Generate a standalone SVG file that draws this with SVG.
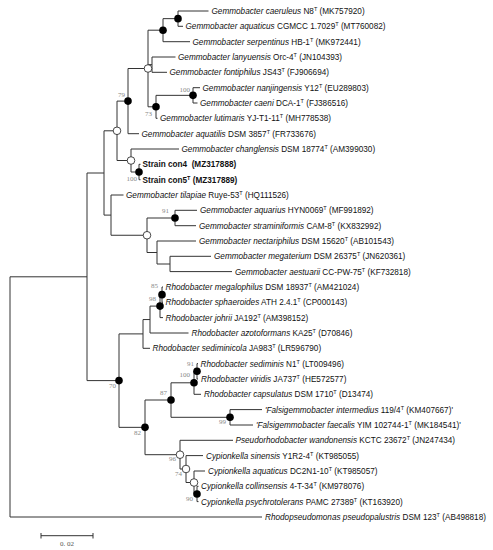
<svg xmlns="http://www.w3.org/2000/svg" width="493" height="550" viewBox="0 0 493 550">
<style>
.br{stroke:#333;stroke-width:1;fill:none}
.lf{font-family:"Liberation Sans",Arial,sans-serif;font-size:8.2px;fill:#111}
.it{font-style:italic}
.b{font-weight:bold}
.sup{font-size:5.5px}
.bs{font-family:"Liberation Serif","Times New Roman",serif;font-size:7px;fill:#888;text-anchor:end}
.fc{fill:#000}
.oc{fill:#fff;stroke:#333;stroke-width:0.9}
.sc{font-family:"Liberation Serif","Times New Roman",serif;font-size:7px;fill:#555;text-anchor:middle}
</style>
<rect width="493" height="550" fill="#fff"/>
<g id="connectors" class="br">
<path d="M178 11V26.3M178 11H208.5M178 26.3H183"/>
<path d="M163 18.65V41.7M163 18.65H178M163 41.7H190"/>
<path d="M152 57V72.3M152 57H175.5M152 72.3H167"/>
<path d="M193 87.7V103M193 87.7H200M193 103H197.5"/>
<path d="M156 95.35V118.3M156 95.35H193M156 118.3H157.5"/>
<path d="M148 30.2V106.8M148 30.2H163M148 64.65H152M148 106.8H156"/>
<path d="M128 68.5V133.7M128 68.5H148M128 133.7H139"/>
<path d="M139 164.3V179.7M139 164.3H140.5M139 179.7H140.5"/>
<path d="M131 149V172M131 149H179M131 172H139"/>
<path d="M117 101.1V160.5M117 101.1H128M117 160.5H131"/>
<path d="M175 210.3V225.7M175 210.3H197M175 225.7H196"/>
<path d="M170 256.3V271.6M170 256.3H211M170 271.6H232"/>
<path d="M157 241V264M157 241H196M157 264H170"/>
<path d="M147 218V252.5M147 218H175M147 252.5H157"/>
<path d="M111 195V235.25M111 195H123.5M111 235.25H147"/>
<path d="M104 130.8V215.1M104 130.8H117M104 215.1H111"/>
<path d="M162 287V302.3M162 287H163M162 302.3H163"/>
<path d="M160 294.65V317.6M160 294.65H162M160 317.6H163"/>
<path d="M150 306.1V333M150 306.1H160M150 333H188.5"/>
<path d="M143 319.55V348.3M143 319.55H150M143 348.3H150"/>
<path d="M197 363.6V379M197 363.6H198M197 379H198"/>
<path d="M194 371.3V394.3M194 371.3H197M194 394.3H201"/>
<path d="M230 409.6V425M230 409.6H262M230 425H253"/>
<path d="M171 382.8V417.3M171 382.8H194M171 417.3H230"/>
<path d="M197 486.3V501.6M197 486.3H198.5M197 501.6H198.5"/>
<path d="M194 471V493.95M194 471H205M194 493.95H197"/>
<path d="M186 455.6V482.5M186 455.6H203M186 482.5H194"/>
<path d="M180 440.3V469M180 440.3H233M180 469H186"/>
<path d="M145 400V454.7M145 400H171M145 454.7H180"/>
<path d="M119 333.9V427.35M119 333.9H143M119 427.35H145"/>
<path d="M87 173V380.6M87 173H104M87 380.6H119"/>
<path d="M10 276.8V517M10 276.8H87M10 517H262"/>
</g>
<g id="internal-nodes">
<g id="n-caer"><circle class="fc" cx="178" cy="18.65" r="3.8"/></g>
<g id="n-serp"><circle class="fc" cx="163" cy="30.2" r="3.8"/></g>
<g id="n-gem1"><circle class="oc" cx="148" cy="68.5" r="3.8"/></g>
<g id="n-nanj"><circle class="fc" cx="193" cy="95.35" r="3.8"/><text class="bs" x="190" y="91.5">100</text></g>
<g id="n-lut"><circle class="fc" cx="156" cy="106.8" r="3.8"/><text class="bs" x="152" y="116">73</text></g>
<g id="n-79"><circle class="fc" cx="128" cy="101.1" r="3.8"/><text class="bs" x="125" y="96.5">79</text></g>
<g id="n-strain"><circle class="fc" cx="139" cy="172" r="3.8"/><text class="bs" x="137" y="181">100</text></g>
<g id="n-chang"><circle class="oc" cx="131" cy="160.5" r="3.8"/></g>
<g id="n-gem2"><circle class="oc" cx="117" cy="130.8" r="3.8"/></g>
<g id="n-aquarius"><circle class="fc" cx="175" cy="218" r="3.8"/><text class="bs" x="169" y="212.5">91</text></g>
<g id="n-gem3"><circle class="oc" cx="147" cy="235.25" r="3.8"/></g>
<g id="n-85"><circle class="fc" cx="162" cy="294.65" r="3.8"/><text class="bs" x="158" y="287.5">85</text></g>
<g id="n-98"><circle class="fc" cx="160" cy="306.1" r="3.8"/><text class="bs" x="156" y="301">98</text></g>
<g id="n-91"><circle class="fc" cx="197" cy="371.3" r="3.8"/><text class="bs" x="194" y="365.5">91</text></g>
<g id="n-100v"><circle class="fc" cx="194" cy="382.8" r="3.8"/><text class="bs" x="190" y="377">100</text></g>
<g id="n-87"><circle class="fc" cx="171" cy="400" r="3.8"/><text class="bs" x="167" y="394.5">87</text></g>
<g id="n-99"><circle class="fc" cx="230" cy="417.3" r="3.8"/><text class="bs" x="226" y="424">99</text></g>
<g id="n-82"><circle class="fc" cx="145" cy="427.35" r="3.8"/><text class="bs" x="141" y="435">82</text></g>
<g id="n-70"><circle class="fc" cx="119" cy="380.6" r="3.8"/><text class="bs" x="116" y="388">70</text></g>
<g id="n-96"><circle class="oc" cx="180" cy="454.7" r="3.8"/><text class="bs" x="176" y="461">96</text></g>
<g id="n-74"><circle class="oc" cx="186" cy="469" r="3.8"/><text class="bs" x="182" y="476">74</text></g>
<g id="n-cyp"><circle class="oc" cx="194" cy="482.5" r="3.8"/></g>
<g id="n-90"><circle class="fc" cx="197" cy="493.95" r="3.8"/><text class="bs" x="193" y="501">90</text></g>
</g>
<g id="leaves" class="lf">
<g id="l01"><text x="211.5" y="14"><tspan class="it">Gemmobacter caeruleus</tspan> N8<tspan class="sup" dy="-3">T</tspan><tspan dy="3"> (MK757920)</tspan></text></g>
<g id="l02"><text x="185.5" y="29.3"><tspan class="it">Gemmobacter aquaticus</tspan> CGMCC 1.7029<tspan class="sup" dy="-3">T</tspan><tspan dy="3"> (MT760082)</tspan></text></g>
<g id="l03"><text x="192.5" y="44.7"><tspan class="it">Gemmobacter serpentinus</tspan> HB-1<tspan class="sup" dy="-3">T</tspan><tspan dy="3"> (MK972441)</tspan></text></g>
<g id="l04"><text x="178" y="60"><tspan class="it">Gemmobacter lanyuensis</tspan> Orc-4<tspan class="sup" dy="-3">T</tspan><tspan dy="3"> (JN104393)</tspan></text></g>
<g id="l05"><text x="169.5" y="75.3"><tspan class="it">Gemmobacter fontiphilus</tspan> JS43<tspan class="sup" dy="-3">T</tspan><tspan dy="3"> (FJ906694)</tspan></text></g>
<g id="l06"><text x="202.5" y="90.7"><tspan class="it">Gemmobacter nanjingensis</tspan> Y12<tspan class="sup" dy="-3">T</tspan><tspan dy="3"> (EU289803)</tspan></text></g>
<g id="l07"><text x="200" y="106"><tspan class="it">Gemmobacter caeni</tspan> DCA-1<tspan class="sup" dy="-3">T</tspan><tspan dy="3"> (FJ386516)</tspan></text></g>
<g id="l08"><text x="160" y="121.3"><tspan class="it">Gemmobacter lutimaris</tspan> YJ-T1-11<tspan class="sup" dy="-3">T</tspan><tspan dy="3"> (MH778538)</tspan></text></g>
<g id="l09"><text x="141.5" y="136.7"><tspan class="it">Gemmobacter aquatilis</tspan> DSM 3857<tspan class="sup" dy="-3">T</tspan><tspan dy="3"> (FR733676)</tspan></text></g>
<g id="l10"><text x="181.5" y="152"><tspan class="it">Gemmobacter changlensis</tspan> DSM 18774<tspan class="sup" dy="-3">T</tspan><tspan dy="3"> (AM399030)</tspan></text></g>
<g id="l11"><text class="b" x="142.5" y="167.3">Strain con4 &#160;(MZ317888)</text></g>
<g id="l12"><text class="b" x="142.5" y="182.7">Strain con5<tspan class="sup" dy="-3">T</tspan><tspan dy="3"> (MZ317889)</tspan></text></g>
<g id="l13"><text x="126" y="198"><tspan class="it">Gemmobacter tilapiae</tspan> Ruye-53<tspan class="sup" dy="-3">T</tspan><tspan dy="3"> (HQ111526)</tspan></text></g>
<g id="l14"><text x="200" y="213.3"><tspan class="it">Gemmobacter aquarius</tspan> HYN0069<tspan class="sup" dy="-3">T</tspan><tspan dy="3"> (MF991892)</tspan></text></g>
<g id="l15"><text x="199" y="228.7"><tspan class="it">Gemmobacter straminiformis</tspan> CAM-8<tspan class="sup" dy="-3">T</tspan><tspan dy="3"> (KX832992)</tspan></text></g>
<g id="l16"><text x="199" y="244"><tspan class="it">Gemmobacter nectariphilus</tspan> DSM 15620<tspan class="sup" dy="-3">T</tspan><tspan dy="3"> (AB101543)</tspan></text></g>
<g id="l17"><text x="214" y="259.3"><tspan class="it">Gemmobacter megaterium</tspan> DSM 26375<tspan class="sup" dy="-3">T</tspan><tspan dy="3"> (JN620361)</tspan></text></g>
<g id="l18"><text x="235" y="274.6"><tspan class="it">Gemmobacter aestuarii</tspan> CC-PW-75<tspan class="sup" dy="-3">T</tspan><tspan dy="3"> (KF732818)</tspan></text></g>
<g id="l19"><text x="165.5" y="290"><tspan class="it">Rhodobacter megalophilus</tspan> DSM 18937<tspan class="sup" dy="-3">T</tspan><tspan dy="3"> (AM421024)</tspan></text></g>
<g id="l20"><text x="165.5" y="305.3"><tspan class="it">Rhodobacter sphaeroides</tspan> ATH 2.4.1<tspan class="sup" dy="-3">T</tspan><tspan dy="3"> (CP000143)</tspan></text></g>
<g id="l21"><text x="165.5" y="320.6"><tspan class="it">Rhodobacter johrii</tspan> JA192<tspan class="sup" dy="-3">T</tspan><tspan dy="3"> (AM398152)</tspan></text></g>
<g id="l22"><text x="191.5" y="336"><tspan class="it">Rhodobacter azotoformans</tspan> KA25<tspan class="sup" dy="-3">T</tspan><tspan dy="3"> (D70846)</tspan></text></g>
<g id="l23"><text x="152.5" y="351.3"><tspan class="it">Rhodobacter sediminicola</tspan> JA983<tspan class="sup" dy="-3">T</tspan><tspan dy="3"> (LR596790)</tspan></text></g>
<g id="l24"><text x="200.5" y="366.6"><tspan class="it">Rhodobacter sediminis</tspan> N1<tspan class="sup" dy="-3">T</tspan><tspan dy="3"> (LT009496)</tspan></text></g>
<g id="l25"><text x="201" y="382"><tspan class="it">Rhodobacter viridis</tspan> JA737<tspan class="sup" dy="-3">T</tspan><tspan dy="3"> (HE572577)</tspan></text></g>
<g id="l26"><text x="204" y="397.3"><tspan class="it">Rhodobacter capsulatus</tspan> DSM 1710<tspan class="sup" dy="-3">T</tspan><tspan dy="3"> (D13474)</tspan></text></g>
<g id="l27"><text x="265" y="412.6"><tspan class="it">'Falsigemmobacter intermedius</tspan> 119/4<tspan class="sup" dy="-3">T</tspan><tspan dy="3"> (KM407667)'</tspan></text></g>
<g id="l28"><text x="256" y="428"><tspan class="it">'Falsigemmobacter faecalis</tspan> YIM 102744-1<tspan class="sup" dy="-3">T</tspan><tspan dy="3"> (MK184541)'</tspan></text></g>
<g id="l29"><text x="235.5" y="443.3"><tspan class="it">Pseudorhodobacter wandonensis</tspan> KCTC 23672<tspan class="sup" dy="-3">T</tspan><tspan dy="3"> (JN247434)</tspan></text></g>
<g id="l30"><text x="206" y="458.6"><tspan class="it">Cypionkella sinensis</tspan> Y1R2-4<tspan class="sup" dy="-3">T</tspan><tspan dy="3"> (KT985055)</tspan></text></g>
<g id="l31"><text x="208" y="474"><tspan class="it">Cypionkella aquaticus</tspan> DC2N1-10<tspan class="sup" dy="-3">T</tspan><tspan dy="3"> (KT985057)</tspan></text></g>
<g id="l32"><text x="201" y="489.3"><tspan class="it">Cypionkella collinsensis</tspan> 4-T-34<tspan class="sup" dy="-3">T</tspan><tspan dy="3"> (KM978076)</tspan></text></g>
<g id="l33"><text x="201" y="504.6"><tspan class="it">Cypionkella psychrotolerans</tspan> PAMC 27389<tspan class="sup" dy="-3">T</tspan><tspan dy="3"> (KT163920)</tspan></text></g>
<g id="l34"><text x="265" y="520"><tspan class="it">Rhodopseudomonas pseudopalustris</tspan> DSM 123<tspan class="sup" dy="-3">T</tspan><tspan dy="3"> (AB498818)</tspan></text></g>
</g>
<g id="scale-bar">
<path class="br" d="M41 535.7H93M41 533V538.5M93 533V538.5"/>
<text class="sc" x="67" y="546">0. 02</text>
</g>
</svg>
